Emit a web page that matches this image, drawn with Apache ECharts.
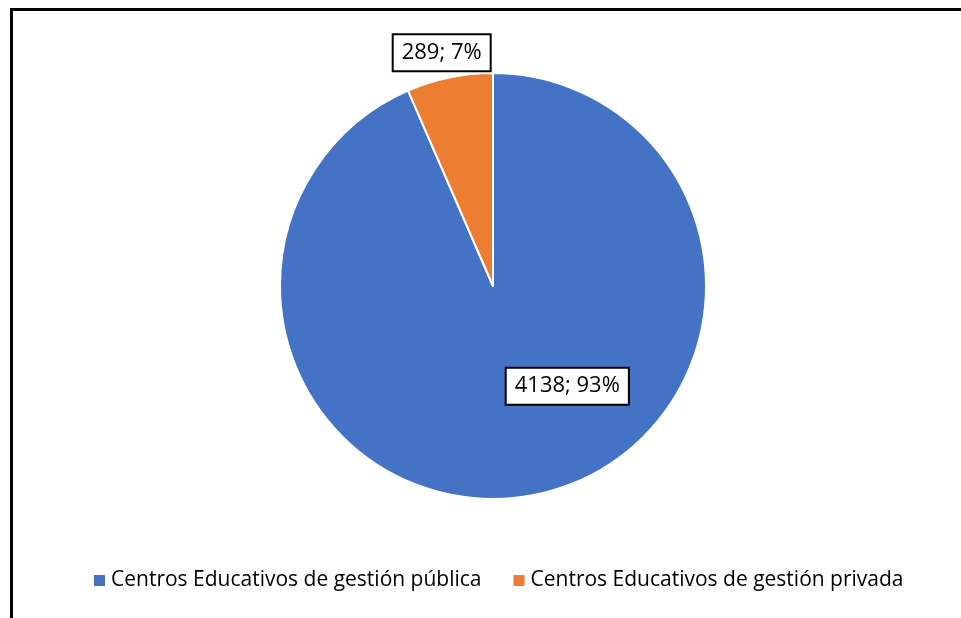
<!DOCTYPE html>
<html>
<head>
<meta charset="utf-8">
<script src="https://cdn.jsdelivr.net/npm/echarts@6/dist/echarts.min.js"></script>
<style>
  html, body { margin: 0; padding: 0; background: #fff; }
  #main { width: 961px; height: 618px; }
</style>
</head>
<body>
<div id="main"></div>
<script>
const categories = ['Centros Educativos de gestión pública', 'Centros Educativos de gestión privada'];
const values = [4138, 289];
const colors = ['#4472C4', '#ED7D31'];

document.addEventListener("DOMContentLoaded", function () {
    const myChart = echarts.init(document.getElementById('main'));

    // offsets move the labels to where the original puts them
    const labelOffsets = [[52, -7], [-29, -126]];

    const option = {
        animation: false,
        color: colors,
        textStyle: { fontFamily: 'Open Sans' },
        graphic: [{
            type: 'rect',
            shape: { x: 11.5, y: 9.5, width: 1000, height: 700 },
            style: { fill: 'none', stroke: '#000', lineWidth: 3 }
        }],
        legend: {
            data: categories,
            left: 92,
            top: 570,
            padding: 0,
            icon: 'rect',
            itemWidth: 13,
            itemHeight: 13,
            itemGap: 30,
            textStyle: { fontSize: 21, color: '#000', fontFamily: 'Open Sans' }
        },
        series: [{
            type: 'pie',
            center: [493, 286],
            radius: 213,
            startAngle: 90,
            clockwise: true,
            percentPrecision: 0,
            itemStyle: { borderColor: '#fff', borderWidth: 2 },
            labelLine: { show: false },
            data: categories.map((name, i) => ({
                name: name,
                value: values[i],
                label: {
                    show: true,
                    position: 'inside',
                    offset: labelOffsets[i],
                    formatter: '{c}; {d}%',
                    fontSize: 22,
                    fontFamily: 'Open Sans',
                    color: '#000',
                    backgroundColor: '#fff',
                    borderColor: '#000',
                    borderWidth: 2,
                    padding: [7, 8, 6, 8]
                }
            }))
        }]
    };
    myChart.setOption(option);
});
</script>
</body>
</html>
